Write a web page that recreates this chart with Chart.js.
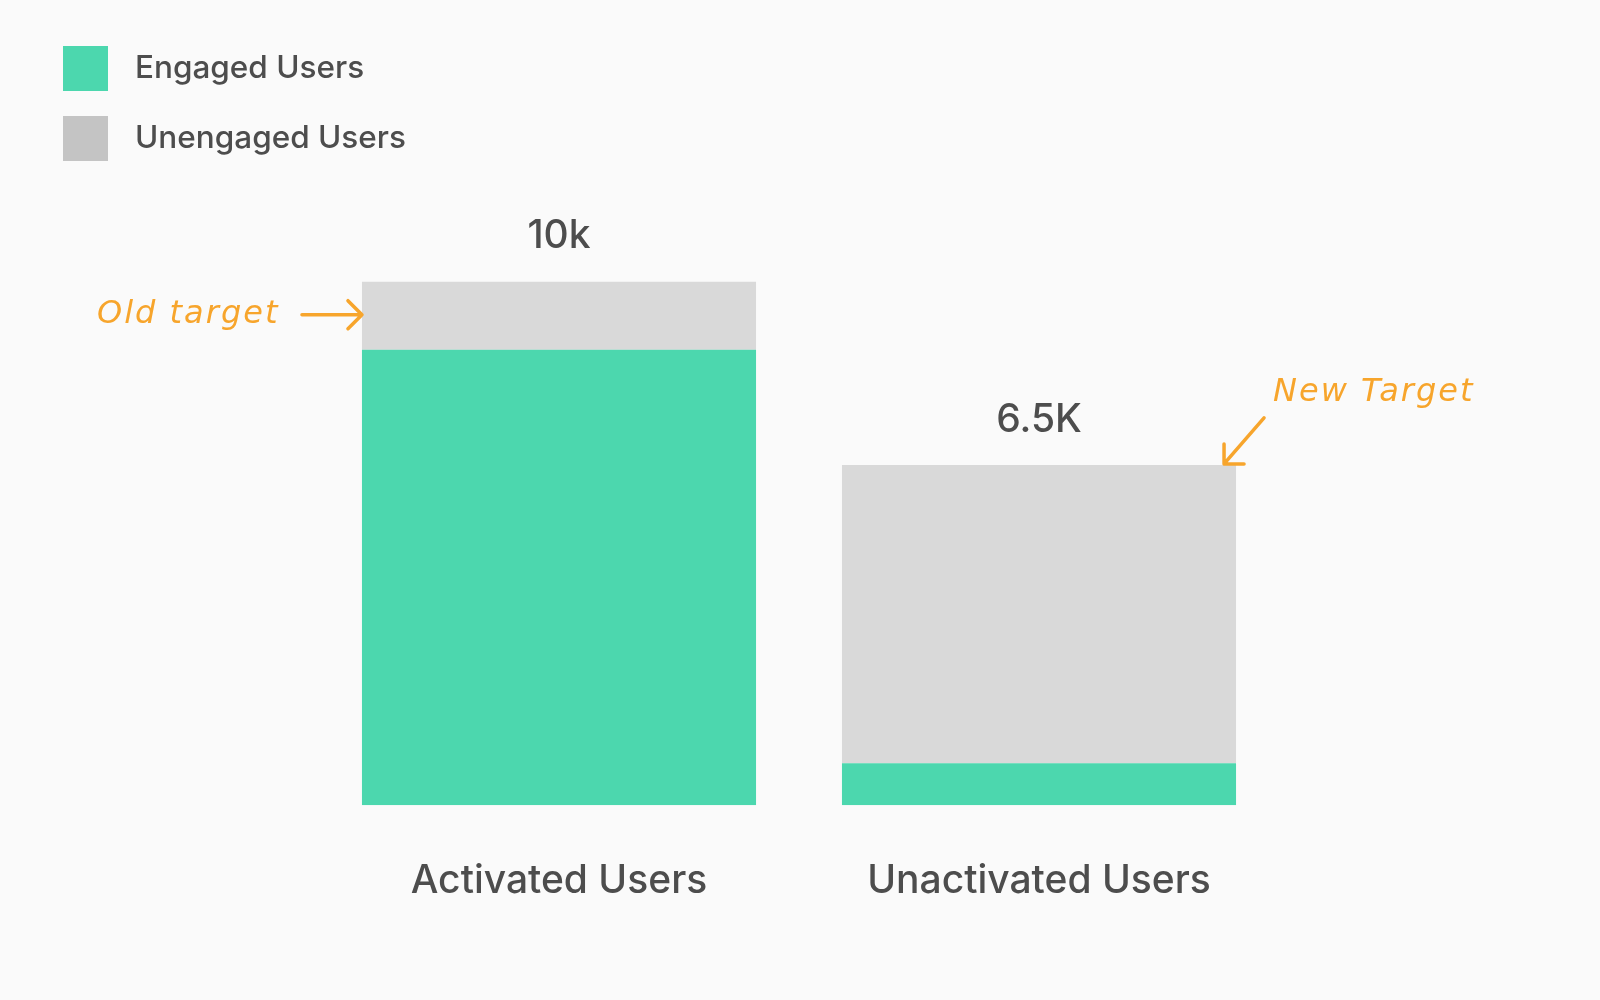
<!DOCTYPE html>
<html>
<head>
<meta charset="utf-8">
<title>Activated vs Unactivated Users</title>
<script src="https://cdn.jsdelivr.net/npm/chart.js@4/dist/chart.umd.min.js"></script>
<style>
  html, body { margin: 0; padding: 0; background: #fafafa; }
  #wrap { width: 1600px; height: 1000px; }
</style>
</head>
<body>
<div id="wrap"><canvas id="myChart" width="1600" height="1000"></canvas></div>
<script>
// data (thousands of users)
const categories = ["Activated Users", "Unactivated Users"];
const engaged = [8.7, 0.8];
const unengaged = [1.3, 5.7];
const totalLabels = ["10k", "6.5K"];
const seriesNames = ["Engaged Users", "Unengaged Users"];

const green = "#4cd7ae";
const barGrey = "#d9d9d9";
const legendGrey = "#c4c4c4";
const textColor = "#4d4d4d";
const orange = "#f7a52c";
const font = "Inter, 'Open Sans', sans-serif";

// legend + value labels + hand-drawn notes
const extras = {
  id: "extras",
  afterDatasetsDraw(chart) {
    const ctx = chart.ctx;
    ctx.save();

    // legend, stacked vertically top-left
    const swatches = [green, legendGrey];
    ctx.font = "500 31.5px " + font;
    ctx.textBaseline = "middle";
    ctx.textAlign = "left";
    for (let i = 0; i < seriesNames.length; i++) {
      const y = 46 + i * 70;
      ctx.fillStyle = swatches[i];
      ctx.fillRect(63, y, 45, 45);
      ctx.fillStyle = textColor;
      ctx.fillText(seriesNames[i], 135, y + 23);
    }

    // totals above stacks
    const top = chart.getDatasetMeta(1).data;
    ctx.font = "500 39px " + font;
    ctx.textAlign = "center";
    ctx.fillStyle = textColor;
    for (let i = 0; i < top.length; i++) {
      ctx.fillText(totalLabels[i], top[i].x, top[i].y - 45);
    }

    // annotations
    ctx.strokeStyle = orange;
    ctx.fillStyle = orange;
    ctx.lineWidth = 3.5;
    ctx.lineCap = "round";
    ctx.lineJoin = "round";
    ctx.font = "italic 32px 'DejaVu Sans', sans-serif";
    ctx.letterSpacing = "2px";

    const b0 = top[0];
    const left0 = b0.x - b0.width / 2;
    const ay = b0.y + 33;
    ctx.textAlign = "left";
    ctx.fillText("Old target", 97, ay);
    ctx.beginPath();
    ctx.moveTo(left0 - 60, ay);
    ctx.lineTo(left0, ay);
    ctx.moveTo(left0 - 14, ay - 14);
    ctx.lineTo(left0, ay);
    ctx.lineTo(left0 - 14, ay + 14);
    ctx.stroke();

    const b1 = top[1];
    const right1 = b1.x + b1.width / 2;
    const tx = right1 - 12, ty = b1.y - 1;
    ctx.fillText("New Target", 1273, b1.y - 72);
    ctx.beginPath();
    ctx.moveTo(tx + 40, ty - 46);
    ctx.lineTo(tx, ty);
    ctx.moveTo(tx, ty - 20);
    ctx.lineTo(tx, ty);
    ctx.lineTo(tx + 20, ty);
    ctx.stroke();

    ctx.restore();
  }
};

const bg = {
  id: "bg",
  beforeDraw(chart) {
    const ctx = chart.ctx;
    ctx.save();
    ctx.fillStyle = "#fafafa";
    ctx.fillRect(0, 0, chart.width, chart.height);
    ctx.restore();
  }
};

const ctx = document.getElementById("myChart").getContext("2d");
const myChart = new Chart(ctx, {
  type: "bar",
  data: {
    labels: categories,
    datasets: [
      { label: seriesNames[0], data: engaged, backgroundColor: green, borderWidth: 0 },
      { label: seriesNames[1], data: unengaged, backgroundColor: barGrey, borderWidth: 0 }
    ]
  },
  options: {
    responsive: false,
    animation: false,
    devicePixelRatio: 1,
    layout: { padding: { left: 319, right: 321, top: 177, bottom: 42 } },
    datasets: { bar: { categoryPercentage: 1, barPercentage: 0.821 } },
    plugins: { legend: { display: false }, tooltip: { enabled: false } },
    scales: {
      x: {
        stacked: true,
        grid: { display: false, drawTicks: false },
        border: { display: false },
        ticks: { color: textColor, padding: 53, font: { family: font, size: 39, weight: "500" } }
      },
      y: {
        stacked: true,
        display: false,
        min: 0,
        max: 12
      }
    }
  },
  plugins: [bg, extras]
});
</script>
</body>
</html>
